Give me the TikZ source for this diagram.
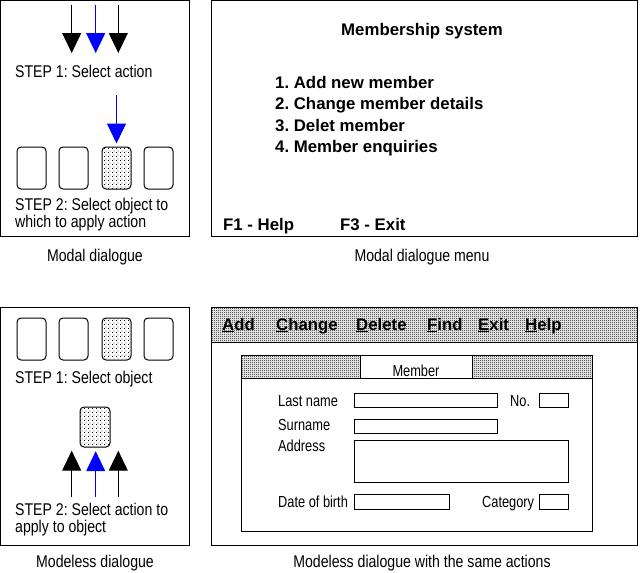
\documentclass[tikz,border=0pt]{standalone}
\usepackage{fontspec}
\setmainfont{Liberation Sans}
\newfontfamily\narrowfont{Liberation Sans}[FakeStretch=0.83]
\newfontfamily\formfont{Liberation Sans}[FakeStretch=0.8]
\usetikzlibrary{arrows.meta,patterns}
\definecolor{actblue}{RGB}{0,0,255}
\pgfdeclarepatternformonly{boxdots}{\pgfqpoint{0pt}{0pt}}{\pgfqpoint{4pt}{4pt}}{\pgfqpoint{4pt}{4pt}}{%
  \pgfpathrectangle{\pgfqpoint{0pt}{0pt}}{\pgfqpoint{1pt}{1pt}}%
  \pgfpathrectangle{\pgfqpoint{2pt}{2pt}}{\pgfqpoint{1pt}{1pt}}%
  \pgfusepath{fill}}
\pgfdeclarepatternformonly{bardots}{\pgfqpoint{0pt}{0pt}}{\pgfqpoint{2pt}{2pt}}{\pgfqpoint{2pt}{2pt}}{%
  \pgfpathrectangle{\pgfqpoint{0pt}{0pt}}{\pgfqpoint{1pt}{1pt}}%
  \pgfpathrectangle{\pgfqpoint{1pt}{1pt}}{\pgfqpoint{1pt}{1pt}}%
  \pgfusepath{fill}}
\newcommand\ulc[1]{\setbox0\hbox{#1}\rlap{\rule[-1.8pt]{\wd0}{1pt}}#1}
\begin{document}
\frenchspacing
\begin{tikzpicture}[x=1pt,y=-1pt,
  panel/.style={draw=black, line width=1pt},
  objbox/.style={draw=black, line width=1pt, rounded corners=4pt, minimum width=29pt, minimum height=42pt, inner sep=0pt},
  selbox/.style={objbox, pattern=boxdots},
  bar/.style={draw=black, line width=1pt, pattern=bardots},
  field/.style={draw=black, line width=1pt},
  narrowtxt/.style={font=\narrowfont\fontsize{17}{19}\selectfont, inner sep=0pt, anchor=base west},
  captxt/.style={font=\narrowfont\fontsize{17}{19}\selectfont, inner sep=0pt, anchor=base},
  bigtxt/.style={font=\bfseries\fontsize{16.8}{21}\selectfont, inner sep=0pt, anchor=base west},
  formtxt/.style={font=\formfont\fontsize{16}{18}\selectfont, inner sep=0pt, anchor=base west},
  act/.style={line width=1pt, -{Triangle[width=19pt,length=20pt]}},
  blueact/.style={act, draw=actblue, fill=actblue}
]
\useasboundingbox (0,0) rectangle (643,573);

% ---------------- panels ----------------
\draw[panel] (0.5,0.5) rectangle (189.5,236.5);
\draw[panel] (211.5,0.5) rectangle (637.5,236.5);
\draw[panel] (0.5,307.5) rectangle (189.5,545.5);
\draw[panel] (211.5,307.5) rectangle (637.5,545.5);

% ---------------- modal dialogue ----------------
\coordinate (t1s) at (71.7,5);   \coordinate (t1e) at (71.7,53);
\coordinate (t2s) at (95.7,5);   \coordinate (t2e) at (95.7,53);
\coordinate (t3s) at (118.3,5);  \coordinate (t3e) at (118.3,53);
\draw[act] (t1s) -- (t1e);
\draw[blueact] (t2s) -- (t2e);
\draw[act] (t3s) -- (t3e);
\node[narrowtxt] (m1) at (15,77.3) {STEP 1: Select action};

\node[objbox] (o1) at (31.5,168) {};
\node[objbox] (o2) at (73.5,168) {};
\node[selbox] (o3) at (116.5,168) {};
\node[objbox] (o4) at (158.5,168) {};
\coordinate (b1s) at (116.5,95);
\draw[blueact, shorten >=3pt] (b1s) -- (o3.north);
\node[narrowtxt] (m2a) at (15,210.7) {STEP 2: Select object to};
\node[narrowtxt] (m2b) at (15,227.3) {which to apply action};
\node[captxt] (c1) at (95,261) {Modal dialogue};

% ---------------- modal dialogue menu ----------------
\node[font=\bfseries\fontsize{16.8}{21}\selectfont, inner sep=0pt, anchor=base] (title) at (422,35) {Membership system};
\node[bigtxt] (i1) at (275,88) {1. Add new member};
\node[bigtxt] (i2) at (275,109.5) {2. Change member details};
\node[bigtxt] (i3) at (275,131) {3. Delet member};
\node[bigtxt] (i4) at (275,152.5) {4. Member enquiries};
\node[bigtxt] (f1) at (223,230) {F1 - Help};
\node[bigtxt] (f3) at (340,230) {F3 - Exit};
\node[captxt] (c2) at (422,261) {Modal dialogue menu};

% ---------------- modeless dialogue ----------------
\node[objbox] (p1) at (31.5,339) {};
\node[objbox] (p2) at (73.5,339) {};
\node[selbox] (p3) at (116.5,339) {};
\node[objbox] (p4) at (158.5,339) {};
\node[narrowtxt] (n1) at (15,383.5) {STEP 1: Select object};
\node[selbox, minimum width=30pt, minimum height=40pt] (sel) at (95,427) {};
\coordinate (u1s) at (71.7,497);  \coordinate (u1e) at (71.7,450.7);
\coordinate (u2s) at (95.7,497);
\coordinate (u3s) at (118.3,497); \coordinate (u3e) at (118.3,450.7);
\draw[act] (u1s) -- (u1e);
\draw[blueact, shorten >=3.7pt] (u2s) -- (u2s |- sel.south);
\draw[act] (u3s) -- (u3e);
\node[narrowtxt] (n2a) at (15,515.7) {STEP 2: Select action to};
\node[narrowtxt] (n2b) at (15,532.3) {apply to object};
\node[captxt] (c3) at (95,567.7) {Modeless dialogue};

% ---------------- modeless dialogue with actions ----------------
\draw[bar] (211.5,307.5) rectangle (637.5,342);
\node[bigtxt] (ma) at (222,330) {\ulc{A}dd};
\node[bigtxt] (mc) at (276,330) {\ulc{C}hange};
\node[bigtxt] (md) at (356,330) {\ulc{D}elete};
\node[bigtxt] (mf) at (427,330) {\ulc{F}ind};
\node[bigtxt] (me) at (478,330) {\ulc{E}xit};
\node[bigtxt] (mh) at (525,330) {\ulc{H}elp};

\draw[field] (241,355) rectangle (592,531);
\draw[bar] (241,355) rectangle (360,378);
\draw[field, fill=white] (360,355) rectangle (472,378);
\draw[bar] (472,355) rectangle (592,378);
\node[formtxt, anchor=base] (mem) at (416,376) {Member};

\node[formtxt] (l1) at (278,406) {Last name};
\draw[field] (354,393.3) rectangle (497,407.3);
\node[formtxt] (l2) at (510,406) {No.};
\draw[field] (539,393.3) rectangle (568,407.3);
\node[formtxt] (l3) at (278,430) {Surname};
\draw[field] (354,419.3) rectangle (497,433.3);
\node[formtxt] (l4) at (278,451.7) {Address};
\draw[field] (354,440) rectangle (568,482.3);
\node[formtxt] (l5) at (278,507.5) {Date of birth};
\draw[field] (354,494.3) rectangle (449.3,509);
\node[formtxt] (l6) at (482,507.5) {Category};
\draw[field] (539,494.3) rectangle (568,509);
\node[captxt] (c4) at (422,567.7) {Modeless dialogue with the same actions};
\end{tikzpicture}
\end{document}
